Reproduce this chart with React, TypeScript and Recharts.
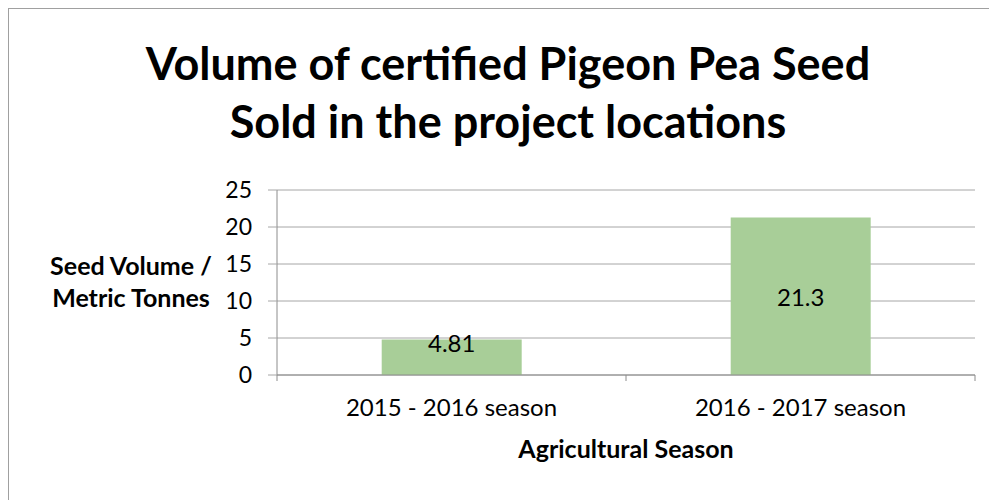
import React from "react";
import { BarChart, Bar, XAxis, YAxis, CartesianGrid, LabelList } from "recharts";

const categories = ["2015 - 2016 season", "2016 - 2017 season"];
const seedVolume = [4.81, 21.3];
const yTicks = [0, 5, 10, 15, 20, 25];

const titleLines = ["Volume of certified Pigeon Pea Seed", "Sold in the project locations"];
const yTitleLines = ["Seed Volume /", "Metric Tonnes"];
const xTitle = "Agricultural Season";

const data = categories.map((c, i) => ({ season: c, value: seedVolume[i] }));

const FONT = "Lato, 'Open Sans', sans-serif";
const GRID = "#a6a6a6";
const AXIS = "#8c8c8c";
const BAR = "#a8ce98";
const FRAME = "#a0a0a0";

const BarValueLabel = (props: any) => {
  const { x, y, width, height, value } = props;
  const cy = height < 45 ? y + 3 : y + height / 2;
  return (
    <text
      x={x + width / 2}
      y={cy}
      textAnchor="middle"
      dominantBaseline="central"
      fontFamily={FONT}
      fontSize={24}
      fill="#000"
    >
      {value}
    </text>
  );
};

const SeasonTick = (props: any) => {
  const { x, y, payload, index, visibleTicksCount } = props;
  const half = payload && payload.offset ? payload.offset : 0;
  const isLast = index === (visibleTicksCount ?? 0) - 1;
  return (
    <g>
      <line x1={x - half} x2={x - half} y1={y} y2={y + 6} stroke={AXIS} />
      {isLast && <line x1={x + half} x2={x + half} y1={y} y2={y + 6} stroke={AXIS} />}
      <text
        x={x}
        y={y + 24}
        dy="0.71em"
        textAnchor="middle"
        fontFamily={FONT}
        fontSize={24}
        fill="#000"
      >
        {payload.value}
      </text>
    </g>
  );
};

export default function App() {
  return (
    <div style={{ position: "relative", width: 989, height: 492, fontFamily: FONT }}>
      <div
        style={{
          position: "absolute",
          left: -1,
          top: 0,
          width: 2,
          height: 492,
          background: FRAME,
        }}
      />
      <div
        style={{
          position: "absolute",
          left: -1,
          top: 0,
          width: 990,
          height: 1,
          background: FRAME,
        }}
      />
      <div
        style={{
          position: "absolute",
          left: 0,
          top: 0,
          width: 1000,
          textAlign: "center",
          fontWeight: 700,
          fontSize: 45,
          lineHeight: "58px",
          paddingTop: 26,
          color: "#000",
        }}
      >
        {titleLines.map((t) => (
          <div key={t}>{t}</div>
        ))}
      </div>
      <div
        style={{
          position: "absolute",
          left: 23,
          width: 200,
          top: 241,
          textAlign: "center",
          fontWeight: 700,
          fontSize: 25,
          lineHeight: "32px",
          color: "#000",
        }}
      >
        {yTitleLines.map((t) => (
          <div key={t}>{t}</div>
        ))}
      </div>
      <div
        style={{
          position: "absolute",
          left: 418,
          width: 400,
          top: 424,
          textAlign: "center",
          fontWeight: 700,
          fontSize: 25,
          lineHeight: "32px",
          color: "#000",
        }}
      >
        {xTitle}
      </div>
      <div style={{ position: "absolute", left: 1, top: 1 }}>
        <BarChart
          width={988}
          height={491}
          data={data}
          margin={{ top: 181, right: 22, bottom: 65, left: 0 }}
          barCategoryGap="30%"
        >
          <CartesianGrid horizontal={true} vertical={false} stroke={GRID} strokeWidth={1} />
          <XAxis
            dataKey="season"
            tickLine={false}
            axisLine={{ stroke: AXIS }}
            tickSize={0}
            tickMargin={0}
            height={60}
            tick={SeasonTick}
            interval={0}
          />
          <YAxis
            width={268}
            domain={[0, 25]}
            ticks={yTicks}
            interval={0}
            tickSize={9}
            tickMargin={16}
            tickLine={{ stroke: GRID }}
            axisLine={{ stroke: AXIS }}
            tick={{ fontFamily: FONT, fontSize: 23, fill: "#000" }}
          />
          <Bar dataKey="value" fill={BAR} isAnimationActive={false}>
            <LabelList dataKey="value" content={BarValueLabel} />
          </Bar>
        </BarChart>
      </div>
    </div>
  );
}
